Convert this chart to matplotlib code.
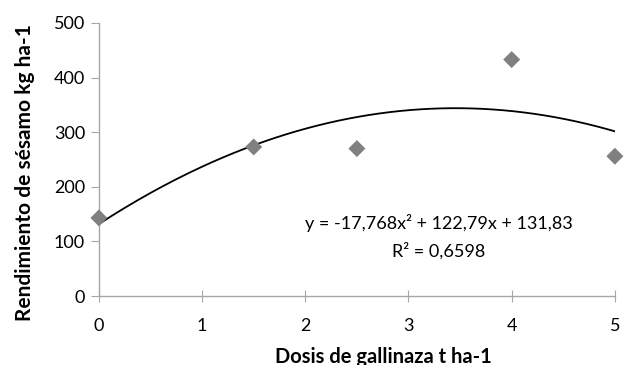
import numpy as np
import matplotlib
matplotlib.use("Agg")
import matplotlib.pyplot as plt

# dose (t/ha) and sesame yield (kg/ha)
dosis = [0, 1.5, 2.5, 4, 5]
rendimiento = [143, 273, 270, 433, 256]

# trendline coefficients as printed on the chart (a*x^2 + b*x + c)
coef = [-17.768, 122.79, 131.83]
r2 = 0.6598

x_ticks = [0, 1, 2, 3, 4, 5]
y_ticks = [0, 100, 200, 300, 400, 500]

plt.rcParams['font.family'] = ['Lato', 'DejaVu Sans']

fig = plt.figure(figsize=(6.3, 3.65), dpi=100)
ax = fig.add_axes([0.157, 0.189, 0.819, 0.748])

xs = np.linspace(min(dosis), max(dosis), 200)
ax.plot(xs, np.polyval(coef, xs), color='black', lw=1.3, zorder=2)
ax.scatter(dosis, rendimiento, marker='D', s=75, color='#808080',
           edgecolors='none', zorder=3, clip_on=False)

ax.set_xlim(0, 5)
ax.set_ylim(0, 500)
ax.set_xticks(x_ticks)
ax.set_yticks(y_ticks)

for side in ['top', 'right']:
    ax.spines[side].set_visible(False)
for side in ['left', 'bottom']:
    ax.spines[side].set_color('#a6a6a6')
    ax.spines[side].set_linewidth(1.0)
ax.tick_params(axis='y', direction='out', length=6, color='#a6a6a6',
               labelsize=13, pad=4)
ax.tick_params(axis='x', direction='inout', length=8, color='#a6a6a6',
               labelsize=13, pad=12)

ax.set_xlabel('Dosis de gallinaza t ha-1', fontsize=14.5, fontweight='bold')
ax.set_ylabel('Rendimiento de sésamo kg ha-1', fontsize=15, fontweight='bold')
ax.xaxis.set_label_coords(0.552, -0.185)
ax.yaxis.set_label_coords(-0.124, 0.454)

eq = 'y = {:,}x² + {:,}x + {:,}'.format(coef[0], coef[1], coef[2]).replace('.', ',')
ax.text(3.29, 134, eq, fontsize=13, ha='center', va='center')
ax.text(3.29, 82, 'R² = ' + str(r2).replace('.', ','), fontsize=13,
        ha='center', va='center')

fig.savefig('out.png', dpi=100)
